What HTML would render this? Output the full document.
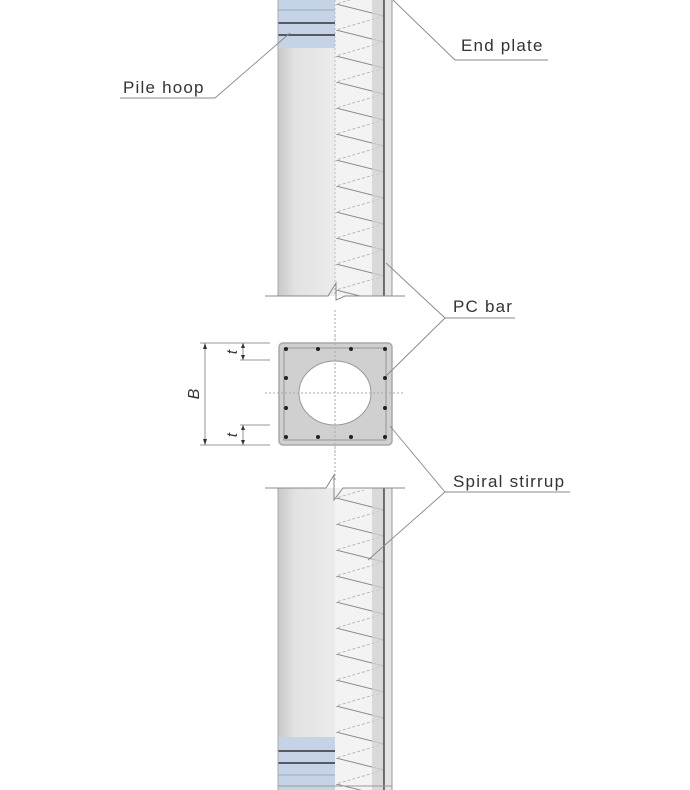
<!DOCTYPE html>
<html><head><meta charset="utf-8"><style>
html,body{margin:0;padding:0;background:#fff;}
svg{display:block}
text{font-family:"Liberation Sans",sans-serif;fill:#333;}
.lbl{font-size:17px;letter-spacing:1.2px}
</style></head><body>
<svg width="690" height="790" viewBox="0 0 690 790" xmlns="http://www.w3.org/2000/svg">
<defs>
<linearGradient id="g" x1="0" x2="1"><stop offset="0" stop-color="#c8c8c8"/><stop offset="0.3" stop-color="#e2e2e2"/><stop offset="1" stop-color="#ececec"/></linearGradient>
<pattern id="zz" width="60" height="26" patternUnits="userSpaceOnUse" x="336" y="4">
<line x1="0" y1="0" x2="48" y2="12" stroke="#8a8a8a" stroke-width="1"/>
<line x1="48" y1="12" x2="0" y2="26" stroke="#aaa" stroke-width="0.8" stroke-dasharray="3,2"/>
</pattern>
</defs>
<g>
<rect x="278" y="0" width="57" height="296" fill="url(#g)"/>
<rect x="278" y="0" width="57" height="48" fill="#c5d3e6"/>
<line x1="278" y1="10" x2="335" y2="10" stroke="#9aaac0"/>
<line x1="278" y1="23" x2="335" y2="23" stroke="#333" stroke-width="1.5"/>
<line x1="278" y1="35" x2="335" y2="35" stroke="#333" stroke-width="1.5"/>
<rect x="335" y="0" width="37" height="296" fill="#f3f3f3"/>
<rect x="336" y="0" width="48" height="296" fill="url(#zz)"/>
<rect x="372" y="0" width="12" height="296" fill="#cfcfcf" opacity="0.8"/>
<line x1="384" y1="0" x2="384" y2="296" stroke="#444" stroke-width="1.5"/>
<rect x="385" y="0" width="7" height="296" fill="#e4e4e4"/>
<line x1="278" y1="0" x2="278" y2="296" stroke="#aaa"/>
<line x1="392" y1="0" x2="392" y2="296" stroke="#999"/>
<line x1="335" y1="0" x2="335" y2="296" stroke="#bbb" stroke-dasharray="2,2"/>
<polygon points="265,296 405,296 405,310 340,310 330,296" fill="#fff"/>
<polyline points="265,296 328,296 336,283 336,300 345,296 405,296" fill="none" stroke="#888"/>
</g>
<g>
<rect x="278" y="488" width="57" height="302" fill="url(#g)"/>
<rect x="278" y="737" width="57" height="53" fill="#c5d3e6"/>
<line x1="278" y1="751" x2="335" y2="751" stroke="#333" stroke-width="1.5"/>
<line x1="278" y1="763" x2="335" y2="763" stroke="#333" stroke-width="1.5"/>
<line x1="278" y1="775" x2="335" y2="775" stroke="#9aaac0"/>
<rect x="335" y="488" width="37" height="302" fill="#f3f3f3"/>
<rect x="336" y="490" width="48" height="300" fill="url(#zz)"/>
<rect x="372" y="488" width="12" height="302" fill="#cfcfcf" opacity="0.8"/>
<line x1="384" y1="488" x2="384" y2="790" stroke="#444" stroke-width="1.5"/>
<rect x="385" y="488" width="7" height="302" fill="#e4e4e4"/>
<line x1="278" y1="488" x2="278" y2="790" stroke="#aaa"/>
<line x1="392" y1="488" x2="392" y2="790" stroke="#999"/>
<line x1="278" y1="786" x2="392" y2="786" stroke="#999"/>
<polyline points="265,488 326,488 334,475 334,500 343,488 405,488" fill="none" stroke="#888"/>
</g>
<line x1="335" y1="310" x2="335" y2="480" stroke="#aaa" stroke-dasharray="2,2"/>
<rect x="279" y="343" width="113" height="102" rx="4" fill="#d0d0d0" stroke="#a8a8a8" stroke-width="1.5"/>
<rect x="284" y="348" width="102" height="92" fill="none" stroke="#888" stroke-width="0.8"/>
<ellipse cx="335" cy="393" rx="36" ry="32" fill="#fff" stroke="#999"/>
<line x1="265" y1="393" x2="405" y2="393" stroke="#aaa" stroke-dasharray="2,2"/>
<line x1="335" y1="335" x2="335" y2="455" stroke="#aaa" stroke-dasharray="2,2"/>
<g fill="#222">
<circle cx="286" cy="349" r="2"/><circle cx="318" cy="349" r="2"/><circle cx="351" cy="349" r="2"/><circle cx="385" cy="349" r="2"/>
<circle cx="286" cy="378" r="2"/><circle cx="385" cy="378" r="2"/>
<circle cx="286" cy="408" r="2"/><circle cx="385" cy="408" r="2"/>
<circle cx="286" cy="437" r="2"/><circle cx="318" cy="437" r="2"/><circle cx="351" cy="437" r="2"/><circle cx="385" cy="437" r="2"/>
</g>
<g stroke="#777" stroke-width="0.8" fill="none">
<line x1="200" y1="343" x2="270" y2="343"/>
<line x1="200" y1="445" x2="270" y2="445"/>
<line x1="240" y1="360" x2="270" y2="360"/>
<line x1="240" y1="425" x2="270" y2="425"/>
<line x1="205" y1="343" x2="205" y2="445"/>
<line x1="243" y1="343" x2="243" y2="360"/>
<line x1="243" y1="425" x2="243" y2="445"/>
</g>
<g fill="#333">
<polygon points="205,343 203,349 207,349"/><polygon points="205,445 203,439 207,439"/>
<polygon points="243,343 241,348 245,348"/><polygon points="243,360 241,355 245,355"/>
<polygon points="243,425 241,430 245,430"/><polygon points="243,445 241,440 245,440"/>
</g>
<text transform="translate(199,394) rotate(-90)" font-size="16" font-style="italic" text-anchor="middle">B</text>
<text transform="translate(237,352) rotate(-90)" font-size="15" font-style="italic" text-anchor="middle">t</text>
<text transform="translate(237,435) rotate(-90)" font-size="15" font-style="italic" text-anchor="middle">t</text>
<g stroke="#888" stroke-width="0.9" fill="none">
<polyline points="393,0 455,60 548,60"/>
<polyline points="290,33 215,98 120,98"/>
<polyline points="386,263 445,318 515,318"/>
<line x1="386" y1="376" x2="445" y2="318"/>
<polyline points="390,426 445,492 570,492"/>
<line x1="368" y1="560" x2="445" y2="492"/>
</g>
<text class="lbl" x="461" y="51">End plate</text>
<text class="lbl" x="123" y="93">Pile hoop</text>
<text class="lbl" x="453" y="312">PC bar</text>
<text class="lbl" x="453" y="487">Spiral stirrup</text>
</svg>
</body></html>
